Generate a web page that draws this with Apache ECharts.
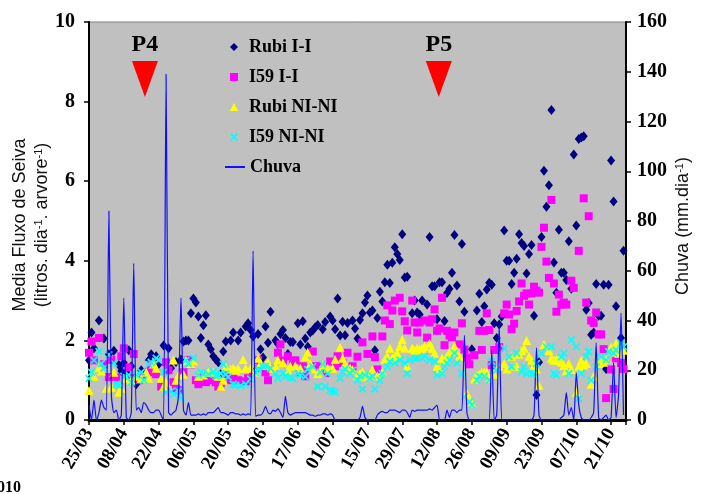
<!DOCTYPE html>
<html>
<head>
<meta charset="utf-8">
<script src="https://cdn.jsdelivr.net/npm/echarts@6/dist/echarts.min.js"></script>
<style>
  html, body { margin: 0; padding: 0; background: #fff; }
  #chart { width: 701px; height: 494px; }
</style>
</head>
<body>
<div id="chart"></div>
<script>
// day 0 = 25/03, one tick label every 14 days
var dateTicks = ['25/03', '08/04', '22/04', '06/05', '20/05', '03/06', '17/06', '01/07',
  '15/07', '29/07', '12/08', '26/08', '09/09', '23/09', '07/10', '21/10'];

// [day, litros/dia/arvore]
var rubiII = [[0,1.5],[1,2.2],[2,1.8],[4,2.5],[6,2.05],[8,1.65],[10,1.74],[12,1.38],[13,1.23],[14,1.44],[15,1.2],[16,1.75],[17,1.35],[19,0.9],[21,1.25],[22,1.15],[24,1.5],[25,1.65],[27,1.6],[28,1.4],[30,1.87],[32,1.8],[33,1.3],[35,1.46],[37,1.52],[38,1.97],[39,2.0],[40,2.0],[41,2.68],[42,3.05],[43,2.95],[44,2.6],[45,2.06],[46,2.38],[47,2.63],[48,1.9],[49,1.78],[50,1.6],[51,1.52],[52,1.45],[53,1.15],[54,1.72],[55,1.97],[57,2.0],[58,2.2],[60,2.0],[61,2.2],[63,2.35],[64,2.43],[65,2.26],[66,2.1],[67,1.25],[68,2.16],[69,1.78],[70,1.57],[71,2.35],[72,1.94],[73,2.72],[75,2.0],[76,1.91],[77,2.16],[78,2.26],[79,2.06],[80,1.66],[81,1.96],[82,1.96],[84,2.43],[85,1.9],[86,2.48],[87,2.05],[88,1.84],[89,2.2],[90,2.25],[91,2.33],[92,2.39],[94,2.28],[95,2.46],[97,2.6],[98,2.5],[99,2.28],[100,3.05],[101,2.12],[102,2.47],[103,2.13],[104,2.44],[106,2.5],[107,2.3],[108,2.05],[109,2.51],[110,2.68],[111,2.95],[112,3.13],[113,2.7],[114,2.75],[115,1.75],[116,2.56],[117,3.22],[118,2.98],[119,3.46],[120,3.9],[121,3.44],[122,3.95],[123,4.34],[124,4.17],[125,4.02],[126,4.67],[127,3.58],[128,3.6],[130,2.68],[131,3.0],[132,2.7],[133,2.65],[134,3.0],[136,2.9],[137,4.6],[138,3.36],[139,3.36],[140,2.53],[141,3.46],[142,3.46],[143,2.49],[144,3.19],[145,3.3],[146,3.7],[147,4.65],[148,3.38],[149,2.98],[150,4.42],[151,2.72],[154,1.78],[156,2.75],[157,3.17],[158,2.46],[159,2.86],[160,3.28],[161,3.45],[162,3.4],[163,2.43],[164,2.06],[165,2.4],[166,2.6],[167,4.76],[168,4.0],[169,4.0],[170,3.42],[171,3.7],[172,4.05],[173,4.67],[174,4.45],[175,4.37],[176,3.68],[177,4.17],[178,4.4],[179,2.62],[180,0.63],[181,1.45],[182,4.6],[183,6.26],[184,5.36],[185,5.9],[186,7.79],[187,3.96],[188,3.2],[189,4.78],[190,3.7],[191,3.7],[192,3.52],[193,4.49],[194,3.3],[195,6.67],[196,4.89],[197,7.06],[198,7.1],[199,7.13],[200,2.77],[201,2.94],[202,2.14],[203,2.2],[204,3.42],[205,2.62],[206,2.62],[207,3.4],[208,1.28],[209,3.4],[210,6.52],[211,5.49],[212,2.86],[214,2.06],[215,4.25]];

var i59II = [[0,1.69],[1,1.97],[2,1.5],[4,2.06],[6,1.4],[8,1.08],[9,1.51],[11,1.07],[13,1.6],[14,1.8],[16,1.32],[17,1.06],[18,1.66],[20,1.0],[22,1.1],[24,1.2],[25,1.4],[27,1.15],[29,0.84],[31,1.45],[32,1.25],[34,0.95],[35,0.8],[36,0.75],[38,1.2],[40,1.51],[41,1.4],[43,1.0],[44,0.9],[46,1.06],[47,0.95],[49,1.0],[51,0.95],[52,0.84],[53,0.92],[55,1.15],[57,1.0],[58,1.05],[60,1.0],[63,0.97],[64,1.05],[66,1.2],[68,1.51],[69,1.36],[71,1.2],[72,1.0],[74,1.3],[76,1.69],[77,1.9],[78,1.5],[80,1.6],[82,1.4],[83,1.5],[85,1.2],[86,1.35],[87,1.1],[89,1.3],[90,1.72],[91,1.35],[93,1.35],[95,1.18],[97,1.47],[99,1.35],[100,1.6],[102,1.43],[104,1.69],[106,1.35],[108,1.59],[110,1.95],[112,1.66],[114,2.1],[115,1.58],[116,1.27],[118,2.1],[119,2.5],[120,2.88],[121,2.41],[122,2.75],[123,3.0],[125,3.07],[126,2.73],[127,2.48],[128,2.25],[130,3.0],[131,2.45],[132,2.2],[133,2.45],[135,2.5],[136,2.07],[137,2.45],[138,2.53],[139,2.78],[140,2.24],[141,2.3],[142,3.07],[143,1.88],[144,2.24],[145,2.12],[146,2.08],[147,2.2],[149,1.9],[150,2.43],[151,1.77],[152,1.57],[153,1.4],[155,1.63],[157,2.24],[158,1.76],[159,2.24],[160,2.68],[161,2.26],[162,1.38],[163,1.76],[165,1.83],[167,2.68],[168,2.9],[169,2.65],[170,2.28],[171,2.42],[172,2.74],[173,2.98],[174,3.43],[175,3.12],[176,3.18],[177,2.9],[178,3.18],[179,3.35],[180,3.25],[181,3.2],[182,4.35],[183,4.83],[184,3.98],[185,3.57],[186,5.53],[187,3.43],[188,2.72],[189,3.15],[190,2.9],[191,2.95],[192,2.9],[194,3.5],[195,3.32],[197,4.25],[199,5.57],[200,2.95],[201,5.12],[202,2.5],[203,2.44],[204,2.7],[205,2.15],[206,2.15],[207,1.78],[208,0.55],[210,1.27],[211,0.78],[212,1.55],[214,1.43],[215,1.28]];

var rubiNN = [[0,0.74],[2,1.1],[4,1.32],[5,1.23],[7,0.8],[9,0.82],[10,1.2],[12,0.7],[13,0.8],[15,1.05],[17,1.0],[19,1.1],[21,1.04],[23,1.2],[24,1.05],[26,1.41],[27,1.3],[29,1.05],[30,0.84],[31,0.95],[34,1.51],[35,1.0],[36,1.13],[38,1.15],[39,1.5],[41,1.42],[42,1.48],[44,1.1],[46,1.13],[48,1.2],[50,1.2],[52,1.1],[53,0.85],[54,1.0],[55,1.33],[57,1.28],[58,1.3],[59,1.25],[60,1.3],[62,1.52],[63,1.3],[65,1.3],[67,1.2],[68,1.55],[69,1.43],[71,1.37],[72,1.45],[74,1.3],[75,1.36],[76,1.51],[78,1.44],[80,1.25],[81,1.35],[83,1.36],[85,1.3],[87,1.58],[88,1.7],[89,1.42],[90,1.28],[92,1.17],[93,1.2],[94,1.38],[96,1.3],[98,1.3],[99,1.52],[101,1.83],[102,1.55],[103,1.42],[105,1.3],[106,1.26],[108,1.13],[109,1.17],[110,1.21],[111,1.1],[113,1.13],[114,1.26],[116,1.11],[118,1.2],[119,1.52],[120,1.6],[121,1.8],[122,1.55],[123,1.6],[124,1.68],[125,1.85],[126,2.02],[127,1.81],[128,1.35],[130,1.8],[131,1.75],[132,1.8],[133,1.78],[134,1.8],[135,1.85],[137,1.93],[138,1.8],[139,1.68],[140,1.35],[141,1.26],[142,1.55],[143,1.5],[144,1.6],[145,1.7],[146,1.72],[147,1.85],[148,1.72],[149,1.6],[152,0.68],[153,0.53],[154,0.43],[155,1.03],[156,1.13],[157,1.15],[158,1.2],[159,1.2],[160,1.2],[161,1.05],[163,1.15],[165,1.35],[167,1.42],[168,1.28],[170,1.6],[171,1.35],[172,1.35],[173,1.65],[174,1.74],[175,1.8],[176,2.0],[177,1.6],[178,1.5],[179,1.37],[180,1.28],[181,0.87],[183,1.9],[185,1.74],[186,1.55],[187,1.5],[188,1.52],[189,1.5],[190,1.46],[191,1.37],[192,1.24],[193,1.42],[194,1.27],[196,0.7],[197,1.35],[198,1.5],[199,1.38],[200,1.42],[202,0.9],[203,1.1],[205,1.42],[206,1.53],[207,1.45],[208,1.52],[210,1.83],[211,1.7],[212,1.93],[213,1.68],[215,1.75]];

var i59NN = [[0,1.04],[1,1.2],[2,1.5],[4,1.72],[5,1.42],[6,1.3],[8,1.64],[10,1.43],[11,0.9],[12,0.87],[14,1.1],[16,1.13],[17,0.95],[19,1.13],[21,1.2],[22,1.0],[24,1.4],[25,1.45],[27,1.55],[28,1.5],[30,1.2],[31,0.7],[33,0.72],[34,0.65],[36,0.72],[37,0.55],[39,1.5],[40,1.42],[42,1.55],[44,1.13],[45,1.2],[46,1.15],[48,1.15],[50,1.22],[51,1.1],[52,1.13],[53,1.17],[54,1.4],[55,1.15],[56,1.08],[58,0.9],[59,0.88],[61,0.86],[63,0.9],[65,1.03],[67,1.19],[68,1.27],[70,1.34],[71,1.35],[73,1.3],[75,1.17],[76,1.05],[78,1.17],[79,1.1],[81,1.07],[82,1.05],[84,1.17],[85,1.13],[87,1.09],[88,1.27],[90,1.34],[92,0.84],[93,1.2],[94,1.4],[95,0.84],[96,1.17],[97,0.75],[98,0.72],[99,0.7],[101,1.05],[102,1.2],[103,1.28],[105,1.17],[106,1.25],[108,1.0],[109,1.1],[110,0.78],[111,1.13],[113,1.05],[114,1.1],[115,0.78],[117,1.0],[118,1.17],[120,1.34],[121,1.47],[123,1.43],[125,1.51],[127,1.43],[128,1.17],[129,1.51],[131,1.55],[132,1.55],[134,1.55],[135,1.6],[137,1.51],[139,1.47],[140,1.13],[142,1.17],[143,1.34],[144,1.43],[145,1.51],[147,1.68],[148,1.43],[150,1.17],[151,0.59],[153,0.46],[154,0.38],[156,1.0],[157,1.1],[159,1.1],[161,1.0],[162,1.47],[164,1.26],[167,1.8],[169,1.59],[170,1.34],[172,1.68],[174,1.21],[175,1.34],[176,1.16],[178,1.17],[179,1.17],[180,1.42],[182,1.68],[184,1.84],[186,1.84],[187,1.17],[188,1.13],[190,1.59],[191,1.68],[193,1.17],[194,2.01],[196,1.84],[197,0.54],[198,1.17],[200,1.59],[201,1.72],[202,1.0],[204,1.34],[206,1.59],[208,1.51],[209,1.72],[211,1.68],[212,1.76],[214,1.93],[215,1.84]];

// [day, mm]
var chuva = [[0,6],[1,0],[2,8],[3,0],[4,3],[5,8],[6,5],[7,4],[8,84],[9,10],[10,3],[11,4],[12,0],[13,2],[14,49],[15,1],[16,0],[17,3],[18,63],[19,4],[20,5],[21,3],[22,7],[23,6],[24,4],[25,3],[26,3],[27,4],[28,4],[29,2],[30,0],[31,139],[32,3],[33,2],[34,3],[35,4],[36,10],[37,49],[38,4],[39,2],[40,7],[41,2],[42,2],[43,2],[44,2.5],[45,2],[46,2.5],[47,2],[48,3],[49,3],[50,3],[51,4],[52,5],[53,3],[54,3],[55,2.5],[56,2],[57,3],[58,3],[59,2.5],[60,2.5],[61,2],[62,2.5],[63,2],[64,2.5],[65,2],[66,68],[67,1.5],[68,2],[69,2],[70,3],[71,5.5],[72,3],[73,2.5],[74,4],[75,3.5],[76,4.5],[77,3],[78,1],[79,9.5],[80,3],[81,2],[82,2.5],[83,3],[84,3],[85,3],[86,3],[87,3],[88,2.5],[89,2],[90,2],[91,1.5],[92,2],[93,2],[94,2.5],[95,2.5],[96,2],[97,2.5],[98,2],[99,0],[100,0],[101,0],[102,0],[103,0],[104,0],[105,0],[106,0],[107,0],[108,0],[109,1],[110,5.5],[111,1],[112,0],[113,0],[114,0],[115,0],[116,2],[117,3],[118,3.5],[119,3],[120,3],[121,4],[122,4],[123,4],[124,3.5],[125,3],[126,4],[127,4],[128,3],[129,1],[130,4],[131,3.5],[132,4],[133,4],[134,4],[135,4],[136,4],[137,4.5],[138,4],[139,5],[140,6],[141,0],[142,0],[143,0],[144,4],[145,1],[146,4],[147,4],[148,3],[149,4],[150,4],[151,34],[152,3],[153,0],[154,0],[155,0],[156,0],[157,0],[158,0],[159,0],[160,0],[161,0],[162,28],[163,0],[164,2],[165,38],[166,0],[167,0],[168,0],[169,0],[170,0],[171,0],[172,0],[173,0],[174,0],[175,0],[176,0],[177,0],[178,0],[179,2],[180,29],[181,2],[182,0],[183,0],[184,0],[185,0],[186,0],[187,0],[188,0],[189,0],[190,1],[191,2],[192,11],[193,2],[194,5],[195,0],[196,19],[197,6],[198,1],[199,0],[200,0],[201,0],[202,1],[203,3],[204,31],[205,1],[206,0],[207,1],[208,2],[209,0],[210,1],[211,23],[212,1],[213,10],[214,43],[215,2]];

// P4 / P5 arrows: [day, left-axis value]
var arrows = [{ name: 'P4', coord: [22.5, 8.57] }, { name: 'P5', coord: [140.7, 8.57] }];

var serif = '"Liberation Serif", "Times New Roman", serif';
var sans = '"Liberation Sans", Arial, sans-serif';
var xMark = 'path://M0,1.5L1.5,0L5,3.5L8.5,0L10,1.5L6.5,5L10,8.5L8.5,10L5,6.5L1.5,10L0,8.5L3.5,5Z';

var chart = echarts.init(document.getElementById('chart'));

var tickLabel = { fontFamily: serif, fontWeight: 'bold', fontSize: 20, color: '#000' };
var legendText = { fontFamily: serif, fontWeight: 'bold', fontSize: 18, color: '#000' };

chart.setOption({
  animation: false,
  backgroundColor: '#fff',
  grid: { left: 89, right: 75, top: 22, bottom: 74, show: true, backgroundColor: '#c0c0c0', borderColor: '#7f7f7f', borderWidth: 1 },
  legend: [{
    orient: 'vertical', left: 225, top: 33, itemGap: 12, itemWidth: 8, itemHeight: 8,
    textStyle: Object.assign({ padding: [0, 0, 0, 6] }, legendText),
    data: ['Rubi I-I', 'I59 I-I', 'Rubi NI-NI', 'I59 NI-NI']
  }, {
    orient: 'vertical', left: 220, top: 153, itemWidth: 20, itemHeight: 2,
    textStyle: legendText,
    data: [{ name: 'Chuva', icon: 'rect' }]
  }],
  xAxis: {
    type: 'value', min: 0, max: 216, interval: 14,
    axisLine: { onZero: false, lineStyle: { color: '#000', width: 3 } },
    axisTick: { length: 5, lineStyle: { color: '#000', width: 1.5 } },
    splitLine: { show: false },
    axisLabel: {
      rotate: 60, margin: 10, fontFamily: serif, fontWeight: 'bold', fontSize: 19, color: '#000',
      formatter: function (v) { return v % 14 === 0 ? dateTicks[v / 14] : ''; }
    }
  },
  yAxis: [{
    type: 'value', min: 0, max: 10, interval: 2,
    axisLine: { show: true, lineStyle: { color: '#000', width: 2 } },
    axisTick: { show: true, length: 5, lineStyle: { color: '#000', width: 1.5 } },
    splitLine: { show: false },
    axisLabel: Object.assign({ margin: 14 }, tickLabel)
  }, {
    type: 'value', min: 0, max: 160, interval: 20, position: 'right',
    axisLine: { show: true, lineStyle: { color: '#000', width: 2 } },
    axisTick: { show: true, length: 5, lineStyle: { color: '#000', width: 1.5 } },
    splitLine: { show: false },
    axisLabel: Object.assign({ margin: 11 }, tickLabel)
  }],
  graphic: [{
    type: 'text', x: 20, y: 225, rotation: Math.PI / 2,
    style: {
      text: 'Media Fluxo de Seiva', fill: '#111', font: '18px ' + sans, align: 'center', verticalAlign: 'middle'
    }
  }, {
    type: 'text', x: 42, y: 225, rotation: Math.PI / 2,
    style: {
      text: '{n|(litros. dia}{s|-1}{n|. arvore}{s|-1}{n|)}', fill: '#111', align: 'center', verticalAlign: 'middle',
      rich: { n: { fontFamily: sans, fontSize: 18, fill: '#111' }, s: { fontFamily: sans, fontSize: 11, verticalAlign: 'top', fill: '#111' } }
    }
  }, {
    type: 'text', x: 683, y: 226, rotation: Math.PI / 2,
    style: {
      text: '{n|Chuva (mm.dia}{s|-1}{n|)}', fill: '#111', align: 'center', verticalAlign: 'middle',
      rich: { n: { fontFamily: sans, fontSize: 18, fill: '#111' }, s: { fontFamily: sans, fontSize: 11, verticalAlign: 'top', fill: '#111' } }
    }
  }, {
    type: 'text', x: 21, y: 488,
    style: { text: '2010', fill: '#000', font: 'bold 16px ' + serif, align: 'right', verticalAlign: 'middle' }
  }],
  series: [{
    name: 'Rubi I-I', type: 'scatter', data: rubiII,
    symbol: 'diamond', symbolSize: [8, 10], itemStyle: { color: '#000080', opacity: 1 },
    markPoint: {
      symbol: 'triangle', symbolRotate: 180, symbolSize: [26, 36],
      itemStyle: { color: '#ff0000' },
      label: { show: true, position: 'top', distance: 4, formatter: '{b}', fontFamily: serif, fontWeight: 'bold', fontSize: 24, color: '#000' },
      data: arrows
    }
  }, {
    name: 'I59 I-I', type: 'scatter', data: i59II,
    symbol: 'rect', symbolSize: 8, itemStyle: { color: '#ff00ff', opacity: 1 }
  }, {
    name: 'Rubi NI-NI', type: 'scatter', data: rubiNN,
    symbol: 'triangle', symbolSize: 9, itemStyle: { color: '#ffff00', opacity: 1 }
  }, {
    name: 'I59 NI-NI', type: 'scatter', data: i59NN,
    symbol: xMark, symbolSize: 8, itemStyle: { color: '#00ffff', opacity: 1 }
  }, {
    name: 'Chuva', type: 'line', yAxisIndex: 1, data: chuva,
    symbol: 'none', smooth: 0.2, lineStyle: { color: '#1010ff', width: 1.2 }, itemStyle: { color: '#1010ff' }
  }]
});
</script>
</body>
</html>
